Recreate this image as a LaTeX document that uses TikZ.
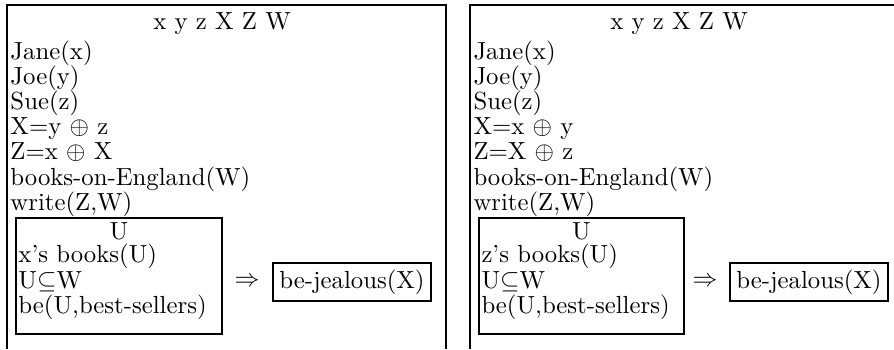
\documentclass[tikz,border=0pt]{standalone}
\usepackage{amssymb}
\usepackage{fontspec}
\newcommand{\drsfont}{\fontsize{9.9}{12}\selectfont\addfontfeatures{FakeBold=0.35}}
\begin{document}
\begin{tikzpicture}[x=0.4pt,y=-0.4pt,
  txt/.style={anchor=base west, inner sep=0pt, font=\drsfont},
  ctxt/.style={anchor=base, inner sep=0pt, font=\drsfont},
  frame/.style={line width=0.75pt},
  subbox/.style={draw, line width=0.7pt, inner sep=0pt},
  condbox/.style={draw, line width=0.7pt, inner xsep=2.6pt, inner ysep=2.6pt, font=\drsfont}]
\useasboundingbox (0,0) rectangle (894,349);
% ---------- left panel ----------
\draw[frame] (7,349) -- (7,5) -- (446,5) -- (446,349);
\node[ctxt] (lt) at (222,29) {x y z X Z W};
\node[txt] (l1) at (10,59) {Jane(x)};
\node[txt] (l2) at (10,84.2) {Joe(y)};
\node[txt] (l3) at (10,109.4) {Sue(z)};
\node[txt] (l4) at (10,134.6) {X=y $\oplus$ z};
\node[txt] (l5) at (10,159.8) {Z=x $\oplus$ X};
\node[txt] (l6) at (10,185) {books-on-England(W)};
\node[txt] (l7) at (10,210.2) {write(Z,W)};
\node[subbox, minimum width=206*0.4pt, minimum height=116*0.4pt] (lin) at (119,276) {};
\node[ctxt] (lu) at (119,239) {U};
\node[txt] (li1) at (18,262) {x's books(U)};
\node[txt] (li2) at (18,288.5) {U$\subseteq$W};
\node[txt] (li3) at (18,313) {be(U,best-sellers)};
\node[ctxt, anchor=center] (larr) at (247,282) {$\Rightarrow$};
\node[condbox] (lc) at (352,282) {be-jealous(X)};
% ---------- right panel ----------
\draw[frame] (470,349) -- (470,5) -- (894,5);
\node[ctxt] (rt) at (679,29) {x y z X Z W};
\node[txt] (r1) at (473,59) {Jane(x)};
\node[txt] (r2) at (473,84.2) {Joe(y)};
\node[txt] (r3) at (473,109.4) {Sue(z)};
\node[txt] (r4) at (473,134.6) {X=x $\oplus$ y};
\node[txt] (r5) at (473,159.8) {Z=X $\oplus$ z};
\node[txt] (r6) at (473,185) {books-on-England(W)};
\node[txt] (r7) at (473,210.2) {write(Z,W)};
\node[subbox, minimum width=205*0.4pt, minimum height=116*0.4pt] (rin) at (581.5,276) {};
\node[ctxt] (ru) at (581.5,239) {U};
\node[txt] (ri1) at (481,262) {z's books(U)};
\node[txt] (ri2) at (481,288.5) {U$\subseteq$W};
\node[txt] (ri3) at (481,313) {be(U,best-sellers)};
\node[ctxt, anchor=center] (rarr) at (705,282) {$\Rightarrow$};
\node[condbox] (rc) at (809,282) {be-jealous(X)};
\end{tikzpicture}
\end{document}
